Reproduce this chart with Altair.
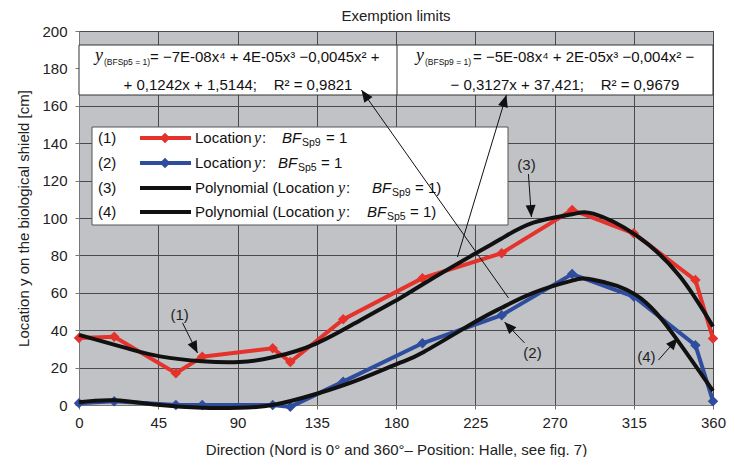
import math
import altair as alt
import pandas as pd

# ---------------- data ----------------
meas_deg = [0, 20, 55, 70, 110, 120, 150, 195, 240, 280, 315, 350, 360]
sp9_val = [35.8, 36.5, 17, 25.8, 30.3, 23, 45.8, 67.8, 81.2, 104.3, 91.8, 66.8, 35.6]
sp5_val = [1, 2, 0, 0, 0, -1, 12.5, 33, 48, 70, 58, 32, 2]

poly9_deg = [0, 27, 46, 70, 91, 110, 135, 160, 182, 196, 226, 240, 258, 280, 292, 316, 341, 360]
poly9_val = [37.5, 30.4, 26, 23.4, 23, 25.5, 33, 45.5, 57, 65, 81.5, 89, 97.5, 102, 102.3, 91, 69, 42]
poly5_deg = [0, 20, 46, 70, 91, 110, 135, 160, 182, 196, 226, 240, 258, 280, 292, 316, 338, 360]
poly5_val = [1.5, 2.5, 0, -1.5, -1.5, 0, 6, 14, 22.5, 28.5, 45, 52, 60, 66.5, 67, 59, 37, 7.5]

x_ticks = [0, 45, 90, 135, 180, 225, 270, 315, 360]
y_ticks = [0, 20, 40, 60, 80, 100, 120, 140, 160, 180, 200]

FONT = "Liberation Sans"
W, H = 634, 374
RED, BLUE, BLACK = "#e5322b", "#2f4d9e", "#111111"
NB = "\u00a0"

xs = alt.Scale(domain=[0, 360], nice=False, zero=False)
ys = alt.Scale(domain=[0, 200], nice=False)

meas = pd.DataFrame({
    "deg": meas_deg * 2,
    "val": sp9_val + sp5_val,
    "series": ["sp9"] * len(meas_deg) + ["sp5"] * len(meas_deg),
})
poly = pd.DataFrame({
    "deg": poly9_deg + poly5_deg,
    "val": poly9_val + poly5_val,
    "series": ["p9"] * len(poly9_deg) + ["p5"] * len(poly5_deg),
})

axis_common = dict(
    grid=True, gridColor="#4a4a4a", gridWidth=1, domainColor="#777", tickColor="#777",
    tickSize=4, labelFontSize=15, labelColor="#222", labelFont=FONT, labelOverlap=False,
    labelFlush=False, titleFont=FONT, titleFontSize=15, titleFontWeight="normal", titleColor="#222")
X = alt.X("deg:Q", scale=xs, axis=alt.Axis(
    values=x_ticks, title="Direction (Nord is 0° and 360°– Position: Halle, see fig. 7)",
    labelPadding=6, titlePadding=12, **axis_common))
Y = alt.Y("val:Q", scale=ys, axis=alt.Axis(
    values=y_ticks, title="Location y on the biological shield [cm]",
    labelPadding=8, titlePadding=10, **axis_common))

col = alt.Color("series:N", scale=alt.Scale(domain=["sp9", "sp5"], range=[RED, BLUE]), legend=None)

meas_lines = alt.Chart(meas).mark_line(strokeWidth=4, clip=False).encode(
    x=X, y=Y, color=col, detail="series:N")
meas_pts = alt.Chart(meas).mark_point(shape="diamond", filled=True, size=110, opacity=1, clip=False).encode(
    x=X, y=Y, color=col)
poly_lines = alt.Chart(poly).mark_line(strokeWidth=4, color=BLACK, interpolate="natural", clip=False).encode(
    x=X, y=Y, detail="series:N")

# ---------------- equation box ----------------
eq_box = alt.Chart(pd.DataFrame({"a": [0]})).mark_rect(fill="white", stroke="#333", strokeWidth=1).encode(
    x=alt.value(0), x2=alt.value(W), y=alt.value(14), y2=alt.value(64))
eq_div = alt.Chart(pd.DataFrame({"a": [0]})).mark_rule(color="#333", strokeWidth=1).encode(
    x=alt.value(318), y=alt.value(14), y2=alt.value(64))


def txt(df, **kw):
    base = dict(font=FONT, color="#111", baseline="middle", align="left")
    base.update(kw)
    return alt.Chart(df).mark_text(**base).encode(
        x=alt.X("px:Q", scale=None), y=alt.Y("py:Q", scale=None), text="t:N",
        size=alt.Size("fs:Q", scale=None))


eq_y = pd.DataFrame({"t": ["y", "y"], "px": [16, 337], "py": [25, 25], "fs": [18, 18]})
eq_sub = pd.DataFrame({"t": ["(BFSp5 = 1)", "(BFSp9 = 1)"], "px": [25, 346], "py": [31, 31], "fs": [8.5, 8.5]})
eq_main = pd.DataFrame({
    "t": ["= −7E-08x⁴ + 4E-05x³ −0,0045x² +", "= −5E-08x⁴ + 2E-05x³ −0,004x² −"],
    "px": [71, 394], "py": [26, 26], "fs": [15, 15]})
eq_row2 = pd.DataFrame({
    "t": ["+ 0,1242x + 1,5144;" + NB * 4 + "R² = 0,9821",
          "− 0,3127x + 37,421;" + NB * 4 + "R² = 0,9679"],
    "px": [159, 486], "py": [54, 54], "fs": [15, 15]})

# ---------------- legend ----------------
leg_box = alt.Chart(pd.DataFrame({"a": [0]})).mark_rect(fill="white", stroke="#555", strokeWidth=1).encode(
    x=alt.value(13), x2=alt.value(429), y=alt.value(96), y2=alt.value(194))
rows_y = [107, 132, 157, 181]
leg_lines = pd.DataFrame({"py": rows_y, "c": [RED, BLUE, BLACK, BLACK], "k": ["a", "b", "c", "d"]})
leg_line_ch = alt.Chart(leg_lines).mark_rule(strokeWidth=4).encode(
    x=alt.value(61), x2=alt.value(112), y=alt.Y("py:Q", scale=None),
    color=alt.Color("c:N", scale=None))
leg_pts = alt.Chart(leg_lines.iloc[:2]).mark_point(shape="diamond", filled=True, size=110, opacity=1).encode(
    x=alt.value(86), y=alt.Y("py:Q", scale=None), color=alt.Color("c:N", scale=None))

leg_plain = pd.DataFrame({
    "t": ["(1)", "(2)", "(3)", "(4)",
          "Location", "Location", "Polynomial (Location", "Polynomial (Location",
          ":", ":", ":", ":",
          "= 1", "= 1", "= 1)", "= 1)"],
    "px": [19, 19, 19, 19, 116, 116, 116, 116, 183, 183, 267, 267, 247, 242, 336, 331],
    "py": rows_y * 4, "fs": [15] * 16})
leg_y = pd.DataFrame({"t": ["y"] * 4, "px": [175, 175, 259, 259], "py": rows_y, "fs": [16] * 4})
leg_bf = pd.DataFrame({"t": ["BF"] * 4, "px": [203, 199, 293, 288], "py": rows_y, "fs": [15] * 4})
leg_sub = pd.DataFrame({"t": ["Sp9", "Sp5", "Sp9", "Sp5"], "px": [223, 219, 313, 308],
                        "py": [r + 5 for r in rows_y], "fs": [10.5] * 4})

# ---------------- arrows & callouts (data coordinates) ----------------
tail_deg = [58.8, 253.0, 255.2, 329.0, 243.9, 214.9]
tail_val = [43.9, 33.2, 123.5, 24.0, 57.2, 79.1]
tip_deg = [67.3, 241.6, 256.9, 340.0, 160.4, 242.7]
tip_val = [27.8, 44.4, 100.5, 35.8, 168.4, 165.8]

arrow_df = pd.DataFrame({"deg": tail_deg, "val": tail_val, "deg2": tip_deg, "val2": tip_val})
head_df = pd.DataFrame({
    "deg": tip_deg, "val": tip_val,
    "ang": [math.degrees(math.atan2((d1 - d0) * W / 360, (v1 - v0) * H / 200)) % 360
            for d0, v0, d1, v1 in zip(tail_deg, tail_val, tip_deg, tip_val)]})
arrow_lines = alt.Chart(arrow_df).mark_rule(color="#111", strokeWidth=1).encode(
    x=X, y=Y, x2="deg2:Q", y2="val2:Q")
arrow_heads = alt.Chart(head_df).mark_point(
    shape="M0,0L-1,2.4L1,2.4Z", filled=True, size=100, color="#111", opacity=1).encode(
    x=X, y=Y, angle=alt.Angle("ang:Q", scale=None))
callouts = pd.DataFrame({"t": ["(1)", "(2)", "(3)", "(4)"],
                         "deg": [57.1, 257.5, 254.1, 322.2], "val": [48.1, 27.8, 128.3, 25.7]})
callout_txt = alt.Chart(callouts).mark_text(font=FONT, fontSize=15, color="#222").encode(
    x=X, y=Y, text="t:N")

chart = alt.layer(
    meas_lines, meas_pts, poly_lines,
    leg_box, leg_line_ch, leg_pts,
    txt(leg_plain), txt(leg_y, font="Liberation Serif", fontStyle="italic"),
    txt(leg_bf, fontStyle="italic"), txt(leg_sub),
    eq_box, eq_div,
    txt(eq_y, font="Liberation Serif", fontStyle="italic"), txt(eq_sub), txt(eq_main),
    txt(eq_row2, align="center"),
    arrow_lines, arrow_heads, callout_txt,
).properties(
    width=W, height=H,
    title=alt.TitleParams("Exemption limits", font=FONT, fontSize=15, fontWeight="normal",
                          color="#222", offset=0, anchor="middle"),
    autosize=alt.AutoSizeParams(type="none"),
    padding={"left": 71, "top": 23, "right": 14, "bottom": 52},
).configure_view(fill="#c1c2c6", stroke="#555", strokeWidth=1)

chart.save("out.html", embed_options={"renderer": "svg", "actions": False})
